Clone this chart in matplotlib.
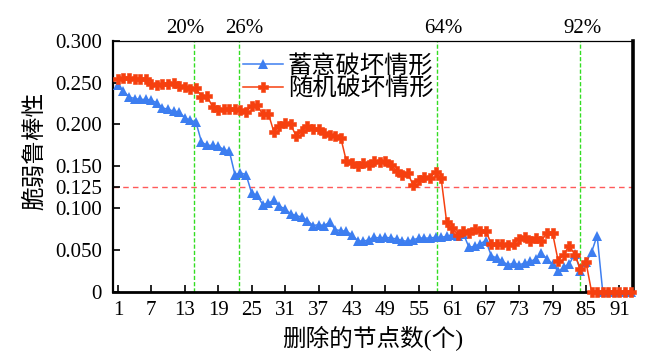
import matplotlib
matplotlib.use("Agg")
import matplotlib.pyplot as plt
import numpy as np

plt.rcParams['font.family'] = ['Liberation Serif', 'Noto Sans CJK SC', 'DejaVu Sans']
plt.rcParams['axes.unicode_minus'] = False

nodes = list(range(1, 94))

deliberate = [
    0.247, 0.240, 0.233, 0.231, 0.230, 0.230, 0.229, 0.226, 0.220, 0.218,
    0.216, 0.215, 0.208, 0.205, 0.203, 0.179, 0.175, 0.175, 0.174, 0.170,
    0.168, 0.140, 0.142, 0.140, 0.118, 0.115, 0.104, 0.106, 0.109, 0.102,
    0.099, 0.093, 0.091, 0.089, 0.085, 0.079, 0.080, 0.079, 0.083, 0.074,
    0.073, 0.072, 0.068, 0.061, 0.060, 0.062, 0.065, 0.064, 0.065, 0.064,
    0.063, 0.061, 0.060, 0.062, 0.064, 0.064, 0.064, 0.065, 0.065, 0.066,
    0.068, 0.067, 0.069, 0.053, 0.054, 0.057, 0.061, 0.043, 0.040, 0.036,
    0.032, 0.034, 0.032, 0.034, 0.036, 0.039, 0.046, 0.039, 0.033, 0.024,
    0.029, 0.033, 0.045, 0.025, 0.035, 0.047, 0.067, 0.0, 0.0, 0.0,
    0.0, 0.0, 0.0,
]

random_ = [
    0.255, 0.256, 0.256, 0.255, 0.254, 0.254, 0.248, 0.247, 0.249, 0.249,
    0.250, 0.246, 0.245, 0.243, 0.244, 0.233, 0.234, 0.221, 0.217, 0.218,
    0.219, 0.218, 0.217, 0.215, 0.222, 0.223, 0.212, 0.213, 0.191, 0.198,
    0.202, 0.200, 0.186, 0.192, 0.198, 0.194, 0.194, 0.190, 0.187, 0.186,
    0.184, 0.156, 0.154, 0.150, 0.154, 0.152, 0.156, 0.155, 0.156, 0.152,
    0.144, 0.139, 0.142, 0.127, 0.133, 0.137, 0.136, 0.143, 0.136, 0.083,
    0.076, 0.068, 0.072, 0.070, 0.075, 0.072, 0.073, 0.057, 0.057, 0.057,
    0.056, 0.057, 0.063, 0.065, 0.061, 0.064, 0.061, 0.070, 0.070, 0.037,
    0.044, 0.055, 0.044, 0.027, 0.035, 0.0, 0.0, 0.0, 0.0, 0.0,
    0.0, 0.0, 0.0,
]

threshold = 0.125
markers_x = [14.7, 22.8, 58.2, 84.0]
markers_lbl = ["20%", "26%", "64%", "92%"]
label_dx = [-1.6, 0.8, 1.2, 0.3]

x_ticks = list(range(1, 92, 6))
y_ticks = [0, 0.05, 0.1, 0.125, 0.15, 0.2, 0.25, 0.3]
y_tick_labels = ["0", "0.050", "0.100", "0.125", "0.150", "0.200", "0.250", "0.300"]

fig = plt.figure(figsize=(6.64, 3.61), dpi=100)
ax = fig.add_axes([0.170, 0.1925, 0.783, 0.694])

blue = '#3d7ef0'
red = '#f6400f'

ax.axhline(threshold, color='#ff5a5a', lw=1.0, ls=(0, (4, 3)), zorder=1)
for xv, lbl, dx in zip(markers_x, markers_lbl, label_dx):
    ax.axvline(xv, color='#33dd22', lw=1.0, ls=(0, (3, 1.5)), zorder=1)
    ax.text(xv + dx, 1.01, lbl, transform=ax.get_xaxis_transform(),
            ha='center', va='bottom', fontsize=15)

ax.plot(nodes, deliberate, color=blue, lw=1.1, marker='^', ms=7,
        markeredgewidth=0, label='蓄意破坏情形', zorder=3, clip_on=False)
ax.plot(nodes, random_, color=red, lw=1.1, marker='P', ms=7,
        markeredgewidth=0.4, label='随机破坏情形', zorder=4, clip_on=False)

ax.set_xlim(0.1, 93.4)
ax.set_ylim(0, 0.3)
ax.set_xticks(x_ticks)
ax.set_xticklabels([str(t) for t in x_ticks])
ax.set_yticks(y_ticks)
ax.set_yticklabels(y_tick_labels)
ax.tick_params(direction='in', length=5, width=1.2, labelsize=15,
               top=False, right=False)
ax.tick_params(axis='x', pad=7)
ax.tick_params(axis='y', pad=8)

for side, w in [('left', 1.6), ('bottom', 2.0), ('right', 2.6), ('top', 0.9)]:
    ax.spines[side].set_linewidth(w)
    ax.spines[side].set_color('black')

ax.set_xlabel('删除的节点数(个)', fontsize=17, labelpad=4)
ax.set_ylabel('脆弱鲁棒性', fontsize=17)
ax.yaxis.set_label_coords(-0.128, 0.56)

leg = ax.legend(loc='upper left', bbox_to_anchor=(0.25, 0.945), frameon=False,
                fontsize=17.5, handlelength=1.65, handletextpad=0.2,
                borderpad=0, borderaxespad=0, labelspacing=0.0)

fig.savefig('out.png', dpi=100)
